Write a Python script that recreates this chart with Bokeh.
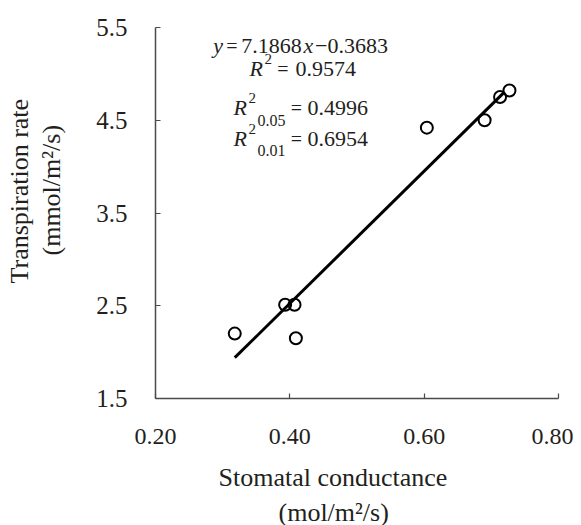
from bokeh.plotting import figure
from bokeh.models import Label, Range1d, FixedTicker, ColumnDataSource, Title
from bokeh.embed import file_html
from bokeh.resources import INLINE

# ---- data ----
conductance = [0.318, 0.393, 0.407, 0.409, 0.604, 0.690, 0.713, 0.727]
transpiration = [2.20, 2.51, 2.51, 2.15, 4.42, 4.50, 4.75, 4.82]
fit_x = [0.318, 0.719]
fit_y = [1.94, 4.80]
x_ticks = [0.2, 0.4, 0.6, 0.8]
x_tick_labels = ["0.20", "0.40", "0.60", "0.80"]
y_ticks = [1.5, 2.5, 3.5, 4.5, 5.5]
y_tick_labels = ["1.5", "2.5", "3.5", "4.5", "5.5"]
eq_slope = "7.1868"
eq_intercept = "0.3683"
r2 = "0.9574"
r2_05 = "0.4996"
r2_01 = "0.6954"

FONT = "Liberation Serif"
INK = "#231f20"

p = figure(frame_width=403, frame_height=371, output_backend="svg",
           toolbar_location=None,
           x_range=Range1d(0.2, 0.8), y_range=Range1d(1.5, 5.5),
           min_border_left=155, min_border_right=15, min_border_top=27,
           min_border_bottom=127, background_fill_color="white",
           border_fill_color="white")
p.outline_line_color = None
p.grid.visible = False

for ax, ticks, labels, size in ((p.xaxis[0], x_ticks, x_tick_labels, "24px"),
                                (p.yaxis[0], y_ticks, y_tick_labels, "25px")):
    ax.ticker = FixedTicker(ticks=ticks)
    ax.major_label_overrides = {t: l for t, l in zip(ticks, labels)}
    ax.major_tick_in = 5
    ax.major_tick_out = 0
    ax.minor_tick_line_color = None
    ax.axis_line_color = "#4a4a4a"
    ax.axis_line_width = 1.5
    ax.major_tick_line_color = "#4a4a4a"
    ax.major_tick_line_width = 1.2
    ax.major_label_text_font = FONT
    ax.major_label_text_font_size = size
    ax.major_label_text_color = INK
p.xaxis.major_label_standoff = 30
p.yaxis.major_label_standoff = 28

p.line(fit_x, fit_y, line_color="black", line_width=3)
src = ColumnDataSource(dict(x=conductance, y=transpiration))
p.scatter("x", "y", source=src, marker="circle", size=12, fill_color=None,
          line_color="black", line_width=2)

# axis titles (two lines each), as side titles
def side_title(text, where, offset, standoff, size="26px"):
    p.add_layout(Title(text=text, align="left", offset=offset, standoff=standoff,
                       text_font=FONT, text_font_size=size,
                       text_font_style="normal", text_color=INK), where)

side_title("Stomatal conductance", "below", 63, 28)
side_title("(mol/m\u00b2/s)", "below", 123, -20)
side_title(" ", "left", 0, 5, size="18px")   # spacer between ticks and titles
side_title("(mmol/m\u00b2/s)", "left", 143, 1)
side_title("Transpiration rate", "left", 115, 1)

# page coords -> frame screen coords (frame left at x 155, bottom at y 398)
def put(text, px, py, size="22px", style="normal", align="left",
        baseline="alphabetic"):
    p.add_layout(Label(x=px - 155, y=398 - py, x_units="screen", y_units="screen",
                       text=text, text_font=FONT, text_font_size=size,
                       text_font_style=style, text_color=INK, text_align=align,
                       text_baseline=baseline))

# regression annotation
put("y", 212.7, 45, style="italic")
put("=", 231.5, 45, size="20px", align="center")
put(eq_slope, 240.7, 45)
put("x", 303, 45, style="italic")
put("\u2212" + eq_intercept, 314.5, 45)

put("R", 249, 68, style="italic")
put("2", 264, 58, size="15px")
put("=", 282.5, 68, size="20px", align="center")
put(r2, 295, 68)

put("R", 233, 107, style="italic")
put("2", 248, 97, size="15px")
put("0.05", 257, 120, size="16px")
put("=", 296, 107, size="20px", align="center")
put(r2_05, 307, 107)

put("R", 233, 138, style="italic")
put("2", 248, 128, size="15px")
put("0.01", 257, 150, size="16px")
put("=", 296, 138, size="20px", align="center")
put(r2_01, 307, 138)

open("out.html", "w").write(file_html(p, INLINE))
